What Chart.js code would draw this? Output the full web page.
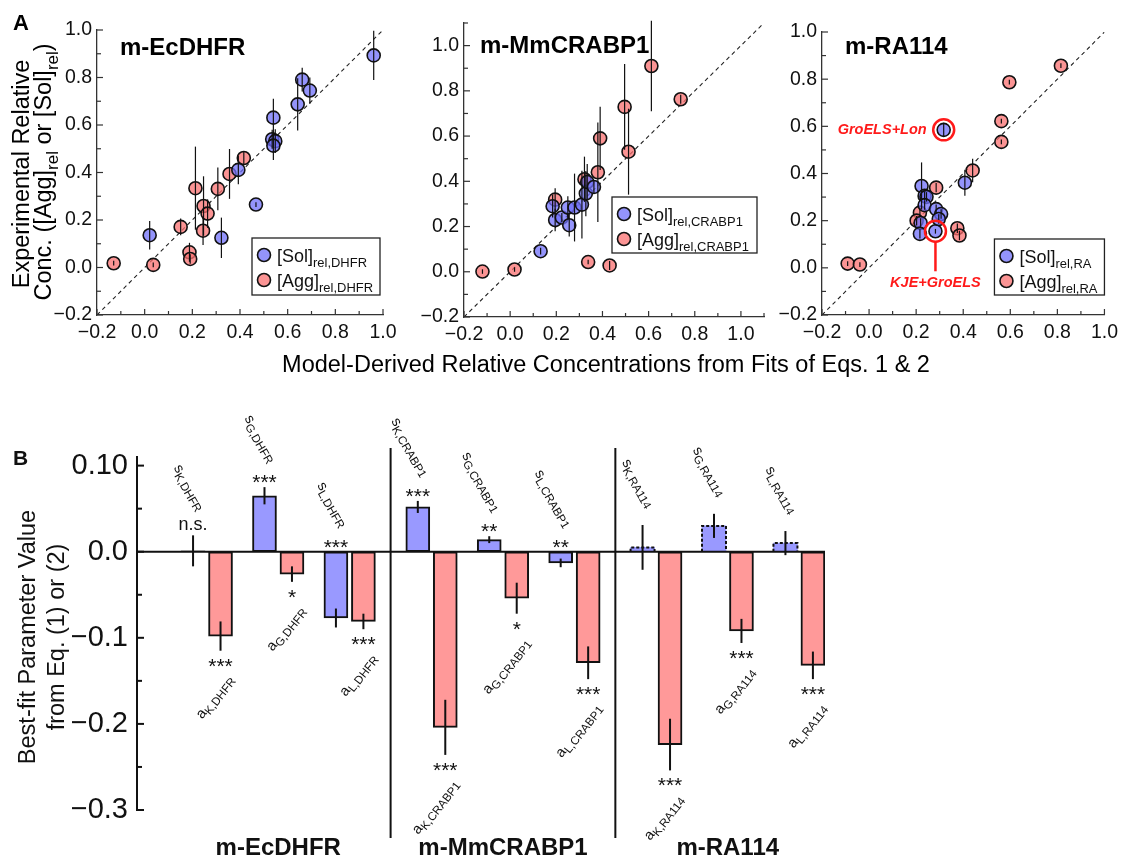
<!DOCTYPE html>
<html lang="en">
<head>
<meta charset="UTF-8">
<title>Relative concentrations and best-fit parameters</title>
<script src="https://cdn.jsdelivr.net/npm/chart.js@4"></script>
<style>
  body { margin: 0; background: #fff; }
  #wrap { position: relative; width: 1124px; height: 857px; }
  #wrap canvas { position: absolute; left: 0; top: 0; }
</style>
</head>
<body>
<div id="wrap">
  <canvas id="a1" width="1124" height="857"></canvas>
  <canvas id="a2" width="1124" height="857"></canvas>
  <canvas id="a3" width="1124" height="857"></canvas>
  <canvas id="b" width="1124" height="857"></canvas>
</div>
<script>
// ---- panel A data: model-derived (x) vs experimental (y) relative conc. ----
const dhfrRange = [-0.2, 1.0];
const dhfrSolX = [0.961, 0.661, 0.693, 0.642, 0.540, 0.535, 0.548, 0.540, 0.393, 0.467, 0.322, 0.021];
const dhfrSolY = [0.893, 0.791, 0.745, 0.687, 0.631, 0.540, 0.532, 0.513, 0.411, 0.265, 0.125, 0.136];
const dhfrSolErr = [0.104, 0.05, 0.055, 0.11, 0.08, 0.04, 0.05, 0.06, 0.06, 0.01, 0.085, 0.06];
const dhfrAggX = [-0.130, 0.036, 0.151, 0.188, 0.191, 0.213, 0.247, 0.264, 0.245, 0.307, 0.356, 0.416];
const dhfrAggY = [0.018, 0.011, 0.171, 0.064, 0.036, 0.334, 0.259, 0.227, 0.155, 0.331, 0.394, 0.461];
const dhfrAggErr = [0.01, 0.01, 0.035, 0.04, 0.02, 0.175, 0.125, 0.06, 0.06, 0.09, 0.105, 0.03];
const dhfrLegend = [['[Sol]', 'rel,DHFR'], ['[Agg]', 'rel,DHFR']];

const crabRange = [-0.2, 1.1];
const crabSolX = [0.132, 0.184, 0.195, 0.224, 0.250, 0.256, 0.279, 0.311, 0.328, 0.334, 0.363];
const crabSolY = [0.091, 0.290, 0.229, 0.240, 0.284, 0.206, 0.284, 0.297, 0.346, 0.397, 0.375];
const crabSolErr = [0.015, 0.05, 0.05, 0.02, 0.05, 0.05, 0.15, 0.15, 0.10, 0.08, 0.03];
const crabAggX = [-0.120, 0.019, 0.612, 0.739, 0.496, 0.513, 0.390, 0.380, 0.322, 0.195, 0.338, 0.431];
const crabAggY = [0.001, 0.010, 0.910, 0.763, 0.729, 0.531, 0.590, 0.440, 0.409, 0.319, 0.043, 0.028];
const crabAggErr = [0.01, 0.01, 0.20, 0.02, 0.19, 0.19, 0.14, 0.22, 0.10, 0.05, 0.01, 0.02];
const crabLegend = [['[Sol]', 'rel,CRABP1'], ['[Agg]', 'rel,CRABP1']];

const raRange = [-0.2, 1.0];
const raSolX = [0.317, 0.282, 0.407, 0.223, 0.236, 0.244, 0.236, 0.285, 0.306, 0.296, 0.219, 0.216];
const raSolY = [0.585, 0.155, 0.361, 0.347, 0.305, 0.301, 0.266, 0.249, 0.228, 0.207, 0.190, 0.144];
const raSolErr = [0.03, 0.01, 0.055, 0.10, 0.02, 0.02, 0.02, 0.02, 0.02, 0.02, 0.02, 0.02];
const raAggX = [-0.091, -0.039, 0.596, 0.815, 0.562, 0.562, 0.440, 0.285, 0.216, 0.202, 0.375, 0.384];
const raAggY = [0.018, 0.014, 0.787, 0.857, 0.622, 0.534, 0.413, 0.340, 0.234, 0.200, 0.168, 0.137];
const raAggErr = [0.01, 0.01, 0.01, 0.01, 0.01, 0.01, 0.05, 0.02, 0.02, 0.02, 0.02, 0.02];
const raLegend = [['[Sol]', 'rel,RA'], ['[Agg]', 'rel,RA']];
const raNotes = [{ text: 'GroELS+Lon', index: 0, side: 'left' }, { text: 'KJE+GroELS', index: 1, side: 'below' }];

// ---- panel B data: best-fit parameters ----
const groups = ['m-EcDHFR', 'm-MmCRABP1', 'm-RA114'];
const groupTags = ['DHFR', 'CRABP1', 'RA114'];
const params = ['K', 'G', 'L'];
const sVals = [0.001, 0.065, -0.077, 0.052, 0.014, -0.013, 0.005, 0.030, 0.010];
const sErr = [0.018, 0.010, 0.011, 0.007, 0.004, 0.005, 0.026, 0.014, 0.014];
const sSig = ['n.s.', '***', '***', '***', '**', '**', '', '', ''];
const aVals = [-0.098, -0.026, -0.081, -0.204, -0.054, -0.129, -0.224, -0.092, -0.132];
const aErr = [0.017, 0.009, 0.009, 0.032, 0.018, 0.019, 0.030, 0.014, 0.016];
const aSig = ['***', '*', '***', '***', '*', '***', '***', '***', '***'];
const bTicks = [-0.3, -0.25, -0.2, -0.15, -0.1, -0.05, 0, 0.05, 0.1];
const bTickLabels = ['\u22120.3', '', '\u22120.2', '', '\u22120.1', '', '0.0', '', '0.10'];

const FONT = "'Liberation Sans', Arial, Helvetica, sans-serif";
const BLUE_PT = 'rgba(112,112,250,0.75)';
const PINK_PT = 'rgba(250,112,112,0.75)';
const BLUE_BAR = '#9999ff';
const PINK_BAR = '#ff9999';
const GROUP_STEP = 8.18, PAIR_STEP = 2.6;

const pts = (xs, ys) => xs.map((x, i) => ({ x, y: ys[i] }));
const fmt = v => (v < -1e-9 ? '\u2212' : '') + Math.abs(v).toFixed(1);

// draws text runs, some of them as subscripts
function rich(ctx, parts, x, y, align, size, ratio) {
  const sub = size * (ratio || 0.72);
  const widths = parts.map(([t, s]) => { ctx.font = `${s ? sub : size}px ${FONT}`; return ctx.measureText(t).width; });
  const total = widths.reduce((p, c) => p + c, 0);
  let cx = align === 'right' ? x - total : align === 'center' ? x - total / 2 : x;
  ctx.textAlign = 'left';
  parts.forEach(([t, s], i) => {
    ctx.font = `${s ? sub : size}px ${FONT}`;
    ctx.fillText(t, cx, y + (s ? size * 0.3 : 0));
    cx += widths[i];
  });
}

// short ticks pointing into the plot
const inTicks = {
  id: 'inTicks',
  afterDraw(chart, args, o) {
    const ctx = chart.ctx, a = chart.chartArea;
    ctx.save();
    ctx.strokeStyle = o.color || '#333';
    ctx.lineWidth = o.width || 1.2;
    ['x', 'y'].forEach(id => {
      const s = chart.scales[id];
      if (!s || s.options.display === false) return;
      s.ticks.forEach(t => {
        const q = t.value / o.step;
        if (Math.abs(q - Math.round(q)) > 1e-6) return;
        const len = t.label === '' ? o.minor : o.major;
        const p = s.getPixelForValue(t.value);
        ctx.beginPath();
        if (id === 'x') { ctx.moveTo(p, a.bottom); ctx.lineTo(p, a.bottom - len); }
        else { ctx.moveTo(a.left, p); ctx.lineTo(a.left + len, p); }
        ctx.stroke();
      });
    });
    ctx.restore();
  }
};

const errorBars = {
  id: 'errorBars',
  afterDatasetsDraw(chart, args, o) {
    const ctx = chart.ctx, y = chart.scales.y;
    ctx.save();
    ctx.strokeStyle = '#111';
    ctx.lineWidth = o.width || 1.2;
    chart.data.datasets.forEach((ds, di) => {
      if (!ds.errY) return;
      chart.getDatasetMeta(di).data.forEach((el, i) => {
        const v = ds.data[i].y, e = ds.errY[i];
        ctx.beginPath();
        ctx.moveTo(el.x, y.getPixelForValue(v - e));
        ctx.lineTo(el.x, y.getPixelForValue(v + e));
        ctx.stroke();
      });
    });
    ctx.restore();
  }
};

// title, legend box and annotations of one scatter panel
const panelA = {
  id: 'panelA',
  afterDraw(chart, args, o) {
    const ctx = chart.ctx, a = chart.chartArea;
    ctx.save();
    ctx.fillStyle = '#000';
    ctx.textBaseline = 'alphabetic';
    ctx.textAlign = 'left';
    ctx.font = `bold 24px ${FONT}`;
    ctx.fillText(o.title, a.left + o.titleAt[0], a.top + o.titleAt[1]);

    const [w, h, r, b] = o.legBox;
    const bx = a.right - r - w, by = a.bottom - b - h;
    ctx.fillStyle = '#fff';
    ctx.fillRect(bx, by, w, h);
    ctx.strokeStyle = '#222';
    ctx.lineWidth = 1.3;
    ctx.strokeRect(bx, by, w, h);
    [BLUE_PT, PINK_PT].forEach((c, i) => {
      const cy = by + 17 + i * 25;
      ctx.beginPath();
      ctx.arc(bx + 12, cy, 6.5, 0, Math.PI * 2);
      ctx.fillStyle = c; ctx.fill();
      ctx.lineWidth = 1.6; ctx.strokeStyle = '#111'; ctx.stroke();
      ctx.fillStyle = '#111';
      rich(ctx, [[o.legend[i][0], false], [o.legend[i][1], true]], bx + 25, cy + 6.5, 'left', 18);
    });

    (o.notes || []).forEach(n => {
      const el = chart.getDatasetMeta(0).data[n.index];
      ctx.strokeStyle = '#ff1a1a'; ctx.fillStyle = '#ff1a1a'; ctx.lineWidth = 2.5;
      ctx.beginPath(); ctx.arc(el.x, el.y, 10.5, 0, Math.PI * 2); ctx.stroke();
      ctx.font = `italic bold 14.5px ${FONT}`;
      if (n.side === 'left') {
        ctx.textAlign = 'right'; ctx.textBaseline = 'middle';
        ctx.fillText(n.text, el.x - 17, el.y);
      } else {
        ctx.beginPath(); ctx.moveTo(el.x, el.y + 10.5); ctx.lineTo(el.x, el.y + 40); ctx.stroke();
        ctx.textAlign = 'center'; ctx.textBaseline = 'alphabetic';
        ctx.fillText(n.text, el.x, el.y + 56);
      }
    });
    ctx.restore();
  }
};

// shared axis titles of panel A
const frameText = {
  id: 'frameText',
  afterDraw(chart) {
    const ctx = chart.ctx;
    ctx.save();
    ctx.fillStyle = '#000';
    ctx.textBaseline = 'alphabetic';
    ctx.textAlign = 'left';
    ctx.font = `bold 22px ${FONT}`;
    ctx.fillText('A', 13, 30);
    ctx.font = `23.5px ${FONT}`;
    ctx.textAlign = 'center';
    ctx.fillText('Model-Derived Relative Concentrations from Fits of Eqs. 1 & 2', 606, 372);
    ctx.save();
    ctx.translate(29, 174); ctx.rotate(-Math.PI / 2);
    rich(ctx, [['Experimental Relative', false]], 0, 0, 'center', 23.5);
    ctx.restore();
    ctx.translate(51, 172); ctx.rotate(-Math.PI / 2);
    rich(ctx, [['Conc. ([Agg]', false], ['rel', true], [' or [Sol]', false], ['rel', true], [')', false]], 0, 0, 'center', 23.5);
    ctx.restore();
  }
};

function scatterPanel(id, d) {
  const common = { showLine: false, pointRadius: 6.5, pointBorderWidth: 1.6, pointBorderColor: '#111' };
  const tickLabel = v => (Math.abs(Math.round(v * 10)) % 2 === 0 ? fmt(v) : '');
  const axis = (range, fit) => ({
    type: 'linear', min: range[0], max: range[1],
    grid: { display: false, drawTicks: false, tickLength: 0 },
    border: { display: true, color: '#333', width: 1.3 },
    ticks: { stepSize: 0.1, autoSkip: false, maxRotation: 0, callback: tickLabel,
             color: '#111', font: { family: FONT, size: 19.5 } },
    afterFit: fit
  });
  const x = axis(d.xRange, s => { s.height = 30; });
  x.ticks.padding = 6;
  const y = axis(d.yRange, s => { s.width = 45; });
  y.ticks.padding = 5;
  return new Chart(document.getElementById(id), {
    type: 'scatter',
    data: {
      datasets: [
        { data: pts(d.solX, d.solY), errY: d.solErr, pointBackgroundColor: BLUE_PT, order: 1, ...common },
        { data: pts(d.aggX, d.aggY), errY: d.aggErr, pointBackgroundColor: PINK_PT, order: 2, ...common },
        { data: [{ x: d.xRange[0], y: d.xRange[0] }, { x: d.xRange[1], y: d.xRange[1] }],
          showLine: true, pointRadius: 0, borderColor: '#222', borderWidth: 1.1, borderDash: [4, 3.5], order: 3 }
      ]
    },
    options: {
      responsive: false, animation: false, devicePixelRatio: 1,
      layout: { padding: d.pad },
      scales: { x, y },
      plugins: {
        legend: { display: false }, tooltip: { enabled: false },
        inTicks: { major: 6, minor: 4, step: 0.1 },
        errorBars: { width: 1.2 },
        panelA: { title: d.title, titleAt: d.titleAt, legend: d.legend, legBox: d.legBox, notes: d.notes }
      }
    },
    plugins: d.extra ? [inTicks, errorBars, panelA, ...d.extra] : [inTicks, errorBars, panelA]
  });
}

scatterPanel('a1', {
  title: groups[0], titleAt: [23, 25], xRange: dhfrRange, yRange: dhfrRange,
  solX: dhfrSolX, solY: dhfrSolY, solErr: dhfrSolErr, aggX: dhfrAggX, aggY: dhfrAggY, aggErr: dhfrAggErr,
  legend: dhfrLegend, legBox: [128, 57, 3, 20],
  pad: { left: 52, right: 741, top: 30, bottom: 512 }, extra: [frameText]
});
scatterPanel('a2', {
  title: groups[1], titleAt: [16, 30], xRange: crabRange, yRange: crabRange,
  solX: crabSolX, solY: crabSolY, solErr: crabSolErr, aggX: crabAggX, aggY: crabAggY, aggErr: crabAggErr,
  legend: crabLegend, legBox: [145, 56, 7, 64],
  pad: { left: 419, right: 360, top: 23, bottom: 510 }
});
scatterPanel('a3', {
  title: groups[2], titleAt: [23, 22], xRange: raRange, yRange: raRange,
  solX: raSolX, solY: raSolY, solErr: raSolErr, aggX: raAggX, aggY: raAggY, aggErr: raAggErr,
  legend: raLegend, legBox: [110, 56, 0, 20], notes: raNotes,
  pad: { left: 777, right: 16, top: 32, bottom: 512 }
});

// ---- panel B ----
const sX = groups.flatMap((g, gi) => params.map((p, pi) => gi * GROUP_STEP + pi * PAIR_STEP));
const aX = sX.map(v => v + 1);
const tagOf = i => `${params[i % 3]},${groupTags[Math.floor(i / 3)]}`;

const panelB = {
  id: 'panelB',
  afterDatasetsDraw(chart) {
    const ctx = chart.ctx, a = chart.chartArea, xs = chart.scales.x, ys = chart.scales.y;
    const y0 = ys.getPixelForValue(0);
    const sMeta = chart.getDatasetMeta(0), aMeta = chart.getDatasetMeta(1);
    ctx.save();
    ctx.strokeStyle = '#111';
    // dashed outline for the non-significant bars
    ctx.lineWidth = 2; ctx.setLineDash([3, 2]);
    sMeta.data.forEach((el, i) => {
      if (sSig[i] !== '') return;
      const p = el.getProps(['x', 'y', 'width'], true);
      ctx.beginPath();
      ctx.moveTo(p.x - p.width / 2, y0); ctx.lineTo(p.x - p.width / 2, p.y);
      ctx.lineTo(p.x + p.width / 2, p.y); ctx.lineTo(p.x + p.width / 2, y0);
      ctx.stroke();
    });
    ctx.setLineDash([]);
    // zero line and group separators
    ctx.beginPath(); ctx.moveTo(a.left, y0); ctx.lineTo(a.right, y0); ctx.stroke();
    for (let g = 1; g < groups.length; g++) {
      const px = xs.getPixelForValue(g * GROUP_STEP - 0.99);
      ctx.beginPath(); ctx.moveTo(px, a.top - 9); ctx.lineTo(px, a.bottom + 28); ctx.stroke();
    }
    // error bars
    [[sMeta, sVals, sErr], [aMeta, aVals, aErr]].forEach(([m, v, e]) => m.data.forEach((el, i) => {
      ctx.beginPath();
      ctx.moveTo(el.x, ys.getPixelForValue(v[i] - e[i]));
      ctx.lineTo(el.x, ys.getPixelForValue(v[i] + e[i]));
      ctx.stroke();
    }));
    // significance marks and rotated parameter names
    ctx.fillStyle = '#111';
    sMeta.data.forEach((el, i) => {
      const top = ys.getPixelForValue(Math.max(0, sVals[i] + sErr[i]));
      ctx.textAlign = 'center'; ctx.textBaseline = 'alphabetic';
      if (sSig[i] === 'n.s.') { ctx.font = `18px ${FONT}`; ctx.fillText('n.s.', el.x, top - 5); }
      else if (sSig[i]) { ctx.font = `21px ${FONT}`; ctx.fillText(sSig[i], el.x, top + 2); }
      ctx.save();
      ctx.translate(el.x + 9, top - (sSig[i] ? 26 : 19));
      ctx.rotate(Math.PI / 3);
      ctx.textBaseline = 'middle';
      rich(ctx, [['s', false], [tagOf(i), true]], 0, 0, 'right', 14.5, 0.8);
      ctx.restore();
    });
    aMeta.data.forEach((el, i) => {
      const bot = ys.getPixelForValue(Math.min(0, aVals[i] - aErr[i]));
      ctx.textAlign = 'center'; ctx.textBaseline = 'alphabetic';
      ctx.font = `21px ${FONT}`;
      ctx.fillText(aSig[i], el.x, bot + 22);
      ctx.save();
      ctx.translate(el.x + 10, bot + 26);
      ctx.rotate(-52 * Math.PI / 180);
      ctx.textBaseline = 'middle';
      rich(ctx, [['a', false], [tagOf(i), true]], 0, 0, 'right', 14.5, 0.8);
      ctx.restore();
    });
    // group names, axis title, panel letter
    ctx.textAlign = 'center'; ctx.textBaseline = 'alphabetic';
    ctx.font = `bold 24px ${FONT}`;
    groups.forEach((g, gi) => ctx.fillText(g, xs.getPixelForValue(gi * GROUP_STEP + 3.1), a.bottom + 45));
    ctx.textAlign = 'left';
    ctx.font = `bold 21px ${FONT}`;
    ctx.fillText('B', 13, 465);
    ctx.save();
    ctx.translate(35, 637); ctx.rotate(-Math.PI / 2);
    rich(ctx, [['Best-fit Parameter Value', false]], 0, 0, 'center', 23.5);
    ctx.restore();
    ctx.translate(64, 637); ctx.rotate(-Math.PI / 2);
    rich(ctx, [['from Eq. (1) or (2)', false]], 0, 0, 'center', 23.5);
    ctx.restore();
  }
};

new Chart(document.getElementById('b'), {
  type: 'bar',
  data: {
    datasets: [
      { data: pts(sX, sVals), backgroundColor: BLUE_BAR, borderColor: '#111',
        borderWidth: c => (sSig[c.dataIndex] === '' ? 0 : 2) },
      { data: pts(aX, aVals), backgroundColor: PINK_BAR, borderColor: '#111', borderWidth: 2 }
    ]
  },
  options: {
    responsive: false, animation: false, devicePixelRatio: 1,
    layout: { padding: { left: 57, right: 299, top: 457, bottom: 47 } },
    datasets: { bar: { grouped: false, barThickness: 24, borderSkipped: false } },
    scales: {
      x: { type: 'linear', min: -2.04, max: 23, display: false, offset: false },
      y: {
        min: -0.3, max: 0.11,
        grid: { display: false, drawTicks: false, tickLength: 0 },
        border: { display: true, color: '#111', width: 2 },
        afterBuildTicks: s => { s.ticks = bTicks.map(value => ({ value })); },
        ticks: {
          autoSkip: false, padding: 9, color: '#111',
          font: { family: FONT, size: 29 },
          callback: (v, i) => bTickLabels[i]
        },
        afterFit: s => { s.width = 80; }
      }
    },
    plugins: {
      legend: { display: false }, tooltip: { enabled: false },
      inTicks: { major: 7, minor: 5, color: '#111', width: 2, step: 0.05 }
    }
  },
  plugins: [inTicks, panelB]
});
</script>
</body>
</html>
